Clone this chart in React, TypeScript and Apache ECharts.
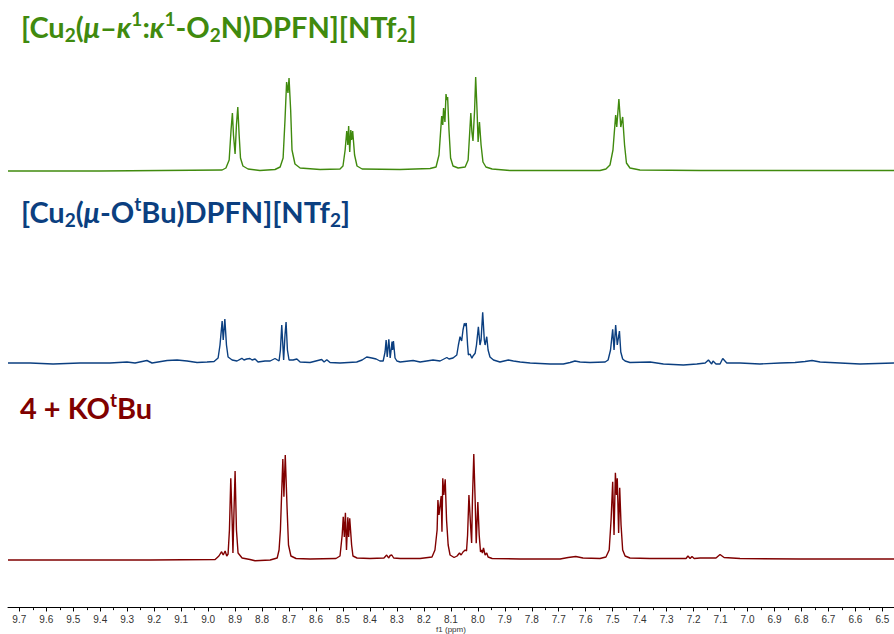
import React, { useEffect, useRef } from "react";
import * as echarts from "echarts";

// x range of the spectrum (ppm), shown reversed
const PPM_MIN = 6.457;
const PPM_MAX = 9.742;

const MAJOR_TICKS = [9.7, 9.6, 9.5, 9.4, 9.3, 9.2, 9.1, 9.0, 8.9, 8.8, 8.7, 8.6, 8.5, 8.4, 8.3, 8.2, 8.1, 8.0, 7.9, 7.8, 7.7, 7.6, 7.5, 7.4, 7.3, 7.2, 7.1, 7.0, 6.9, 6.8, 6.7, 6.6, 6.5];
const MINOR_TICKS = [9.65, 9.55, 9.45, 9.35, 9.25, 9.15, 9.05, 8.95, 8.85, 8.75, 8.65, 8.55, 8.45, 8.35, 8.25, 8.15, 8.05, 7.95, 7.85, 7.75, 7.65, 7.55, 7.45, 7.35, 7.25, 7.15, 7.05, 6.95, 6.85, 6.75, 6.65, 6.55];

// [ppm, intensity]
const GREEN_SPECTRUM = [
  [9.742, 0], [9.401, 0], [8.948, 1], [8.934, 3], [8.922, 11], [8.915, 41], [8.910, 58], [8.906, 36], [8.900, 17],
  [8.895, 46], [8.890, 64], [8.885, 36], [8.880, 13], [8.871, 5], [8.852, 2], [8.808, 0.5], [8.752, 1.5], [8.733, 4],
  [8.722, 13], [8.715, 51], [8.709, 89], [8.704, 78], [8.700, 93], [8.694, 61], [8.689, 21], [8.678, 7], [8.659, 3],
  [8.585, 1.5], [8.511, 2], [8.500, 5], [8.492, 21], [8.486, 40], [8.482, 26], [8.479, 45], [8.475, 19], [8.471, 41],
  [8.468, 31], [8.464, 40], [8.457, 16], [8.448, 5], [8.429, 2], [8.2885, 1.5], [8.177, 2.5], [8.155, 4], [8.144, 16],
  [8.134, 55], [8.130, 46], [8.127, 63], [8.122, 49], [8.118, 77], [8.115, 71], [8.112, 74], [8.107, 41], [8.101, 13],
  [8.092, 5], [8.073, 3], [8.047, 4], [8.036, 11], [8.026, 58], [8.022, 39], [8.018, 30], [8.012, 61], [8.008, 94],
  [8.003, 61], [7.999, 29], [7.994, 49], [7.988, 26], [7.981, 9], [7.970, 4], [7.947, 2], [7.881, 0.5], [7.547, 0.5],
  [7.525, 2], [7.510, 6], [7.499, 21], [7.489, 56], [7.485, 44], [7.477, 72], [7.470, 44], [7.463, 54], [7.456, 26],
  [7.449, 8], [7.436, 3], [7.399, 1], [7.176, 0.5], [6.457, 0.5],
];

const BLUE_SPECTRUM = [
  [9.742, -1], [9.660, -1], [9.575, -2], [9.475, -1], [9.364, -1], [9.301, 0], [9.271, -1], [9.227, 1.5], [9.208, -1],
  [9.152, 1.5], [9.115, 2], [9.078, 1], [9.041, -0.5], [9.004, 0], [8.978, 0.5], [8.963, 4], [8.956, 17], [8.948, 41],
  [8.944, 22], [8.938, 43], [8.932, 17], [8.926, 5], [8.911, 2], [8.893, 1], [8.875, 3.7], [8.867, 2], [8.857, 3],
  [8.845, 3.5], [8.837, 2], [8.826, 3], [8.815, 0], [8.789, 1], [8.770, 1], [8.752, 3.5], [8.737, 1], [8.732, 12],
  [8.727, 37], [8.720, 2], [8.715, 27], [8.711, 40], [8.706, 12], [8.700, 2], [8.685, 2], [8.671, 3], [8.659, 0],
  [8.622, -0.5], [8.579, 2.5], [8.570, 0], [8.560, 2.3], [8.548, -0.5], [8.511, -1], [8.449, 0], [8.429, 2], [8.412, 5],
  [8.393, 4], [8.377, 3], [8.363, 1], [8.351, 1], [8.344, 10], [8.340, 22], [8.336, 5], [8.330, 22.7], [8.325, 4],
  [8.318, 20.3], [8.316, 12], [8.313, 21], [8.307, 4], [8.300, 1], [8.288, 0], [8.240, 1.5], [8.214, 0], [8.166, 2],
  [8.140, 1], [8.115, 4.5], [8.107, 3], [8.092, 4], [8.078, 7], [8.072, 17], [8.066, 25.3], [8.060, 21], [8.055, 32],
  [8.050, 38.7], [8.046, 36], [8.043, 39], [8.038, 17], [8.035, 7], [8.029, 8], [8.022, 3.7], [8.018, 6], [8.010, 8.7],
  [8.005, 17], [7.998, 35.3], [7.992, 17], [7.988, 22], [7.982, 49.7], [7.976, 22], [7.973, 17], [7.967, 25.3],
  [7.962, 12], [7.955, 5], [7.942, 2], [7.918, 0], [7.887, 2], [7.868, 1], [7.843, 0], [7.806, -1], [7.732, -2],
  [7.683, -2], [7.658, -0.5], [7.640, 1], [7.621, 0], [7.584, -0.5], [7.528, 0], [7.517, 2], [7.508, 12], [7.500, 32.7],
  [7.495, 12], [7.489, 37], [7.483, 17], [7.475, 31], [7.470, 10], [7.463, 3], [7.454, 1], [7.436, -0.5], [7.361, 0],
  [7.312, -2], [7.238, -3], [7.188, -2], [7.157, -1], [7.145, 2], [7.133, -2], [7.128, 1], [7.117, -2], [7.102, -2],
  [7.092, 3.5], [7.077, -1], [7.028, -1], [6.954, -2], [6.879, -1], [6.824, -0.5], [6.787, 0.5], [6.761, 1.5],
  [6.731, 0], [6.657, -1], [6.583, -2], [6.457, -1],
];

const RED_SPECTRUM = [
  [9.742, 0], [9.215, 0], [8.974, 0.5], [8.960, 4], [8.950, 8.3], [8.944, 5], [8.937, 9], [8.931, 4], [8.926, 6],
  [8.921, 30], [8.916, 81.7], [8.911, 40], [8.908, 7], [8.904, 50], [8.900, 89], [8.895, 30], [8.889, 7], [8.874, 2],
  [8.845, 0.5], [8.826, -0.7], [8.770, 0], [8.744, 2], [8.737, 10], [8.732, 30], [8.723, 101], [8.719, 63.3],
  [8.714, 105], [8.707, 50], [8.702, 15], [8.693, 4], [8.674, 1.5], [8.622, 1], [8.526, 1.5], [8.511, 4], [8.503, 25],
  [8.499, 43.3], [8.495, 23], [8.491, 47.3], [8.487, 10], [8.482, 42.7], [8.479, 23], [8.475, 41.7], [8.468, 15],
  [8.463, 4], [8.448, 2], [8.400, 1.5], [8.348, 2], [8.338, 5], [8.331, 2], [8.325, 4.5], [8.319, 5], [8.312, 2],
  [8.288, 1.5], [8.214, 1.5], [8.170, 3], [8.159, 10], [8.151, 30], [8.148, 60], [8.144, 45], [8.136, 64], [8.133, 28.3],
  [8.130, 81.7], [8.126, 65], [8.121, 80.7], [8.116, 40], [8.110, 15], [8.103, 5], [8.088, 2.5], [8.077, 4], [8.068, 7],
  [8.062, 5], [8.055, 8], [8.047, 10], [8.042, 9], [8.038, 25], [8.033, 65], [8.027, 35], [8.023, 17], [8.020, 60],
  [8.015, 106], [8.010, 60], [8.006, 16.7], [8.000, 58], [7.995, 25], [7.990, 8], [7.986, 10], [7.983, 7], [7.979, 12],
  [7.973, 5], [7.967, 7], [7.962, 3], [7.947, 1.5], [7.843, 1], [7.695, 1], [7.665, 2.5], [7.637, 3.5], [7.610, 2],
  [7.547, 1.5], [7.525, 3], [7.513, 10], [7.506, 40], [7.500, 78.3], [7.495, 25], [7.490, 87.3], [7.486, 65],
  [7.483, 81.7], [7.478, 27], [7.474, 72.3], [7.469, 35], [7.463, 10], [7.454, 4], [7.436, 2], [7.362, 1.5],
  [7.228, 1.5], [7.221, 4], [7.213, 1.5], [7.206, 3.5], [7.198, 1.5], [7.176, 2], [7.117, 2], [7.102, 5.5],
  [7.087, 2.5], [7.028, 1.5], [6.805, 1], [6.457, 1],
];

const GREEN = "#408a0e";
const BLUE = "#0b3f80";
const RED = "#800000";

const TITLE_FONT = "Lato";

function richFor(color: string, size: number) {
  const sub = Math.round(size * 0.64);
  const base = { color, fontFamily: TITLE_FONT, fontWeight: "bold", fontSize: size, lineHeight: size + 6 };
  return {
    b: base,
    i: { ...base, fontStyle: "italic" },
    s: { ...base, fontSize: sub, lineHeight: sub, verticalAlign: "bottom" },
    p: { ...base, fontSize: sub, lineHeight: sub, verticalAlign: "top" },
  };
}

export default function App() {
  const ref = useRef<HTMLDivElement>(null);
  useEffect(() => {
    if (!ref.current) return;
    const chart = echarts.init(ref.current, undefined, { renderer: "svg" });
    const hiddenX = (gridIndex: number) => ({
      type: "value", gridIndex, min: PPM_MIN, max: PPM_MAX, inverse: true, show: false,
    });
    const hiddenY = (gridIndex: number) => ({
      type: "value", gridIndex, min: -10, max: 120, show: false,
    });
    const series = (data: number[][], idx: number, color: string) => ({
      type: "line", xAxisIndex: idx, yAxisIndex: idx, data, showSymbol: false, symbol: "none",
      lineStyle: { color, width: 1.4 }, silent: true,
    });
    const titleSize = 29;
    chart.setOption({
      animation: false,
      backgroundColor: "#ffffff",
      grid: [
        { left: 8, right: 0, top: 51, height: 130 },
        { left: 8, right: 0, top: 242, height: 130 },
        { left: 8, right: 0, top: 440, height: 130 },
        { left: 8, right: 0, top: 600, height: 10 },
      ],
      xAxis: [
        hiddenX(0), hiddenX(1), hiddenX(2),
        {
          type: "value", gridIndex: 3, min: PPM_MIN, max: PPM_MAX, inverse: true, position: "bottom",
          axisLine: { show: true, lineStyle: { color: "#000", width: 1 } },
          axisTick: { show: true, customValues: MAJOR_TICKS, length: 4, lineStyle: { color: "#000" } },
          axisLabel: {
            show: true, customValues: MAJOR_TICKS, margin: 6, fontSize: 10, color: "#333",
            fontFamily: "Liberation Sans", formatter: (v: number) => v.toFixed(1),
          },
          splitLine: { show: false },
          name: "f1 (ppm)", nameLocation: "middle", nameGap: 16,
          nameTextStyle: { fontSize: 8, color: "#333", fontFamily: "Liberation Sans" },
        },
        {
          type: "value", gridIndex: 3, min: PPM_MIN, max: PPM_MAX, inverse: true, position: "bottom",
          axisLine: { show: false },
          axisTick: { show: true, customValues: MINOR_TICKS, length: 2, lineStyle: { color: "#000" } },
          axisLabel: { show: false },
          splitLine: { show: false },
        },
      ],
      yAxis: [hiddenY(0), hiddenY(1), hiddenY(2), { ...hiddenY(3) }],
      series: [
        series(GREEN_SPECTRUM, 0, GREEN),
        series(BLUE_SPECTRUM, 1, BLUE),
        series(RED_SPECTRUM, 2, RED),
      ],
      graphic: [
        {
          type: "text", left: 21, top: 9,
          style: {
            text: "{b|[Cu}{s|2}{b|(}{i|μ}{b|–}{i|κ}{p|1}{b|:}{i|κ}{p|1}{b|-O}{s|2}{b|N)DPFN][NTf}{s|2}{b|]}",
            rich: richFor(GREEN, titleSize), fill: GREEN,
          },
        },
        {
          type: "text", left: 21, top: 194,
          style: {
            text: "{b|[Cu}{s|2}{b|(}{i|μ}{b|-O}{p|t}{b|Bu)DPFN][NTf}{s|2}{b|]}",
            rich: richFor(BLUE, titleSize), fill: BLUE,
          },
        },
        {
          type: "text", left: 20, top: 390,
          style: {
            text: "{b|4 + KO}{p|t}{b|Bu}",
            rich: richFor(RED, titleSize), fill: RED,
          },
        },
      ],
    });
    return () => chart.dispose();
  }, []);
  return <div ref={ref} style={{ width: 894, height: 634, position: "fixed", left: 0, top: 0 }} />;
}
